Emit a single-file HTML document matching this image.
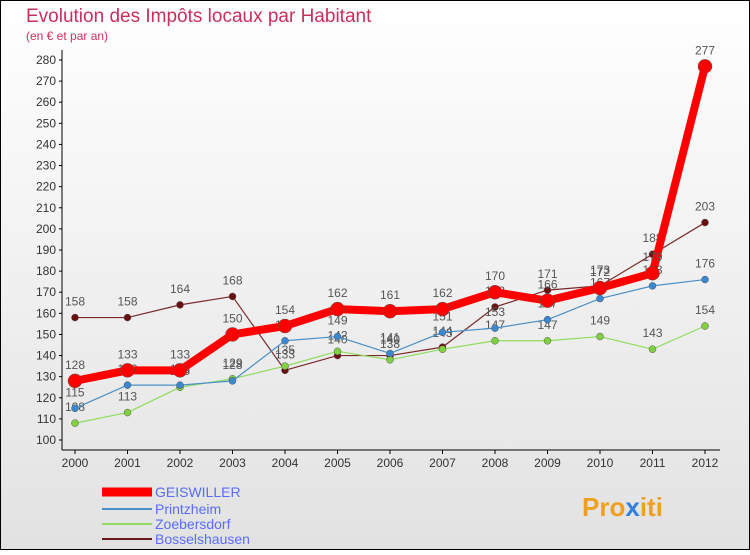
<!DOCTYPE html>
<html><head><meta charset="utf-8"><style>
body{margin:0;width:750px;height:550px;overflow:hidden;font-family:"Liberation Sans",sans-serif}
</style></head><body>
<svg width="750" height="550">
<defs><linearGradient id="bg" x1="0" y1="0" x2="0" y2="1"><stop offset="0" stop-color="#ffffff"/><stop offset="1" stop-color="#e2e2e2"/></linearGradient></defs>
<rect x="0.5" y="0.5" width="749" height="549" fill="url(#bg)" stroke="#000"/>
<text x="26" y="22" font-size="19" fill="#c8305a">Evolution des Impôts locaux par Habitant</text>
<text x="26" y="40" font-size="12" fill="#c8305a">(en € et par an)</text>
<g id="axes"></g><g id="series"></g>
<g>
<line x1="102" y1="492" x2="152" y2="492" stroke="#ff0000" stroke-width="9"/><text x="155" y="497" font-size="14" fill="#5a6cff">GEISWILLER</text>
<line x1="102" y1="509" x2="152" y2="509" stroke="#4a90c8" stroke-width="2"/><text x="155" y="514" font-size="14" fill="#5a6cff">Printzheim</text>
<line x1="102" y1="524" x2="152" y2="524" stroke="#90dc60" stroke-width="2"/><text x="155" y="529" font-size="14" fill="#5a6cff">Zoebersdorf</text>
<line x1="102" y1="539" x2="152" y2="539" stroke="#6a1a1a" stroke-width="2"/><text x="155" y="544" font-size="14" fill="#5a6cff">Bosselshausen</text>
</g>
<text x="582" y="516" font-size="26" font-weight="bold" fill="#f0a020">Pro<tspan fill="#3080e0">x</tspan>iti</text>
</svg>
<script>
const years=[2000,2001,2002,2003,2004,2005,2006,2007,2008,2009,2010,2011,2012];
const geiswiller=[128,133,133,150,154,162,161,162,170,166,172,179,277];
const printzheim=[115,126,126,128,147,149,141,151,153,157,167,173,176];
const zoebersdorf=[108,113,125,129,135,142,138,143,147,147,149,143,154];
const bosselshausen=[158,158,164,168,133,140,140,144,163,171,173,188,203];
const yTicks=[100,110,120,130,140,150,160,170,180,190,200,210,220,230,240,250,260,270,280];
const NS="http://www.w3.org/2000/svg";
const xs=y=>75+(y-2000)*52.5;
const ys=v=>440-(v-100)*380/180;
function mk(t,a,p){const e=document.createElementNS(NS,t);for(const k in a)e.setAttribute(k,a[k]);p.appendChild(e);return e;}
const ax=document.getElementById('axes');
const g=document.getElementById('series');
let l=mk('line',{x1:62,y1:50,x2:62,y2:450,stroke:'#000'},ax);


l=mk('line',{x1:62,y1:450,x2:720,y2:450,stroke:'#000'},ax);


yTicks.forEach(v=>{mk('line',{x1:59,y1:ys(v),x2:62,y2:ys(v),stroke:'#000'},ax);
const t=mk('text',{x:56,y:ys(v)+4,'font-size':12,'text-anchor':'end',fill:'#333'},ax);t.textContent=v;

});
years.forEach(y=>{mk('line',{x1:xs(y),y1:450,x2:xs(y),y2:454,stroke:'#000'},ax);
const t=mk('text',{x:xs(y),y:467,'font-size':12,'text-anchor':'middle',fill:'#333'},ax);t.textContent=y;

});
function draw(name,vals,color,w,r,dot){
const pl=mk('polyline',{points:vals.map((v,i)=>xs(years[i])+','+ys(v)).join(' '),fill:'none',stroke:color,'stroke-width':w,'stroke-linejoin':'round'},g);


vals.forEach((v,i)=>{const c=mk('circle',{cx:xs(years[i]),cy:ys(v),r:r,fill:dot,stroke:'#555','stroke-width':0.5},g);


const t=mk('text',{x:xs(years[i]),y:ys(v)-12,'font-size':12,'text-anchor':'middle',fill:'#555'},g);t.textContent=v;

});}
draw('bosselshausen',bosselshausen,'#7a2a2a',1.2,3.5,'#6a1010');
draw('zoebersdorf',zoebersdorf,'#90dc60',1.2,3.5,'#80d040');
draw('printzheim',printzheim,'#4a90c8',1.2,3.5,'#3a88d0');
draw('geiswiller',geiswiller,'#ff0000',8,7,'#ff0000');
</script>
</body></html>
